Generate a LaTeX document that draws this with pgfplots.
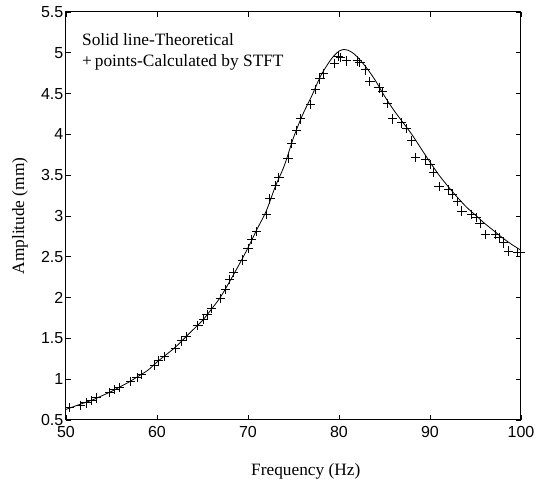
\documentclass[border=0pt]{standalone}
\usepackage{fontspec}
\setmainfont{Liberation Serif}
\newfontfamily\ticksans{Liberation Sans}
\usepackage{pgfplots}
\pgfplotsset{compat=1.18}
\begin{document}
\begin{tikzpicture}
\useasboundingbox (-49.5pt,-48pt) rectangle (358.5pt,315pt);
\begin{axis}[
  at={(0,0)}, anchor=south west,
  scale only axis,
  width=341.25pt, height=306pt,
  xmin=50, xmax=100, ymin=0.5, ymax=5.5,
  xtick={50,60,70,80,90,100},
  ytick={0.5,1,1.5,2,2.5,3,3.5,4,4.5,5,5.5},
  tick align=inside, tick pos=both,
  major tick length=3.75pt,
  axis line style={line width=0.75pt},
  every tick/.style={black, line width=0.6pt},
  /pgf/number format/assume math mode=true,
  ticklabel style={font=\fontsize{12}{14}\ticksans},
  yticklabel style={/pgf/number format/fixed, xshift=1.5pt},
  xticklabel style={yshift=-1.5pt},
  xlabel={Frequency (Hz)},
  ylabel={Amplitude (mm)},
  label style={font=\fontsize{13}{15}\selectfont},
  xlabel style={at={(axis description cs:0.527,0)}, anchor=base, yshift=-42pt},
  ylabel style={at={(axis description cs:-0.101,0.5)}, anchor=center},
  clip=false,
]
% theoretical curve
\addplot[black, line width=0.6pt, smooth] coordinates {
(50,0.63) (51,0.67) (52,0.71) (53,0.75) (54,0.80) (55,0.85) (56,0.91) (57,0.97)
(58,1.04) (59,1.11) (60,1.21) (61,1.30) (62,1.39) (63,1.50) (64,1.61) (65,1.72)
(66,1.86) (67,2.01) (68,2.20) (69,2.40) (70,2.61) (71,2.84) (72,3.06) (73,3.36)
(74,3.62) (75,3.96) (76,4.24) (77,4.47) (78,4.72) (79,4.90) (79.5,4.97) (80,5.02)
(80.5,5.04) (81,5.03) (81.5,5.00) (82,4.95) (83,4.82) (84,4.66) (85,4.47) (86,4.30)
(87,4.15) (88,4.00) (89,3.83) (90,3.66) (91,3.50) (92,3.36) (93,3.23) (94,3.11)
(95,3.01) (96,2.91) (97,2.82) (98,2.73) (99,2.65) (100,2.58)
};
% STFT points
\addplot[only marks, mark=+, mark size=3.5pt, black, mark options={line width=0.7pt}] coordinates {
(50.4,0.65) (51.6,0.68) (52.2,0.71) (52.8,0.74) (53.3,0.77)
(54.8,0.84) (55.3,0.87) (55.9,0.90) (57.1,0.97) (57.8,1.02) (58.3,1.06)
(59.7,1.17) (60.2,1.23) (60.8,1.28) (62.0,1.38) (62.7,1.47) (63.2,1.52)
(64.5,1.66) (65.1,1.73) (65.5,1.79) (66.0,1.87) (67.0,1.99) (67.5,2.10)
(68.0,2.22) (68.4,2.31) (69.4,2.46) (70.0,2.60) (70.4,2.71) (70.9,2.81)
(72.0,3.02) (72.4,3.21) (73.0,3.37) (73.4,3.47) (74.4,3.71) (74.8,3.89)
(75.3,4.05) (75.8,4.19) (76.9,4.37) (77.4,4.55) (77.9,4.68) (78.3,4.75)
(79.5,4.87) (79.9,4.96) (80.2,4.94) (80.8,4.90) (82.0,4.90) (82.3,4.88)
(82.9,4.79) (83.4,4.65) (84.4,4.57) (84.8,4.52) (85.3,4.38) (85.9,4.19)
(86.9,4.14) (87.4,4.07) (88.0,3.92) (88.4,3.72) (89.5,3.69) (90.0,3.63)
(90.4,3.53) (91.0,3.36) (92.0,3.32) (92.5,3.26) (93.0,3.18) (93.5,3.06)
(94.6,3.02) (95.1,2.98) (95.5,2.91) (96.1,2.77) (97.2,2.77) (97.6,2.74)
(98.1,2.67) (98.6,2.57) (99.6,2.55) (99.9,2.55)
};
\node[anchor=base west, font=\fontsize{13}{15}\selectfont, inner sep=0pt] at (rel axis cs:0.035,0.919) {Solid line-Theoretical};
\node[anchor=base west, font=\fontsize{13}{15}\selectfont, inner sep=0pt] at (rel axis cs:0.035,0.866) {+\,points-Calculated by STFT};
\end{axis}
\end{tikzpicture}
\end{document}
